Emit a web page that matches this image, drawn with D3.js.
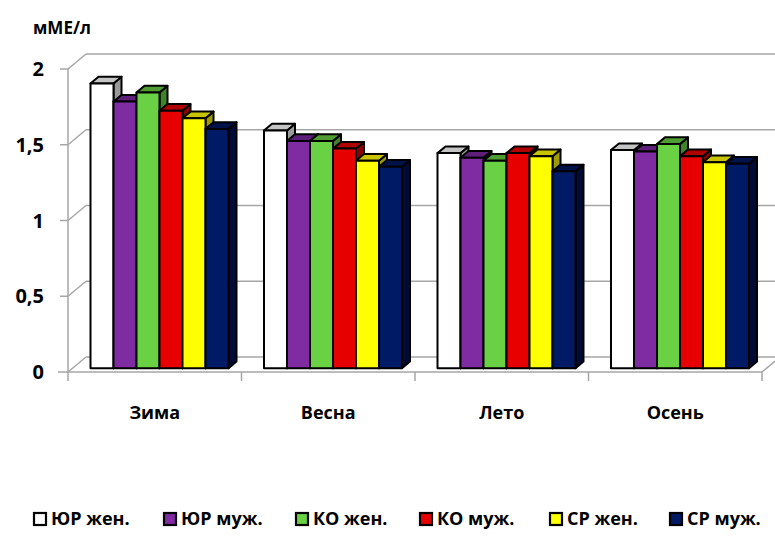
<!DOCTYPE html>
<html>
<head>
<meta charset="utf-8">
<script src="https://cdn.jsdelivr.net/npm/d3@7/dist/d3.min.js"></script>
<style>
  html, body { margin: 0; padding: 0; background: #fff; }
  svg { display: block; }
  text { font-family: "Open Sans", "Noto Sans", sans-serif; font-weight: 700; fill: #000; }
</style>
</head>
<body>
<svg id="chart" width="775" height="550"></svg>
<script>
// Seasons (categories) and the six groups shown in every season
const seasons = ["Зима", "Весна", "Лето", "Осень"];
const groups = ["ЮР жен.", "ЮР муж.", "КО жен.", "КО муж.", "СР жен.", "СР муж."];

// Values per group, one entry per season (мМЕ/л)
const yurZhen = [1.88, 1.57, 1.42, 1.44];
const yurMuzh = [1.76, 1.50, 1.39, 1.43];
const koZhen  = [1.82, 1.50, 1.37, 1.48];
const koMuzh  = [1.70, 1.45, 1.42, 1.40];
const srZhen  = [1.65, 1.37, 1.40, 1.36];
const srMuzh  = [1.58, 1.33, 1.30, 1.35];
const seriesValues = [yurZhen, yurMuzh, koZhen, koMuzh, srZhen, srMuzh];

const yTicks = [0, 0.5, 1, 1.5, 2];
const yTickLabels = ["0", "0,5", "1", "1,5", "2"];
const unitLabel = "мМЕ/л";

// Face colours for each group: front, top, side
const palette = [
  { front: "#ffffff", top: "#c4c4c4", side: "#9a9a9a" },
  { front: "#7f2ca2", top: "#5e1f7a", side: "#4a175f" },
  { front: "#6ad044", top: "#4f9c32", side: "#3f8428" },
  { front: "#e60000", top: "#b00000", side: "#8c0000" },
  { front: "#ffff00", top: "#c8c400", side: "#9e9a00" },
  { front: "#001a66", top: "#00124a", side: "#000c36" }
];

const svg = d3.select("#chart");

// Front plane of the plot and the depth offset of the back wall
const x0 = 68, x1 = 762;
const depthX = 18, depthY = -15;

const x = d3.scaleBand().domain(seasons).range([x0, x1]).paddingInner(0).paddingOuter(0);
const xInner = d3.scaleBand().domain(groups).range([18, 18 + 138]).padding(0);
const y = d3.scaleLinear().domain([0, 2]).range([372, 69]);

// project a point (front-plane x, value, depth fraction 0..1)
const P = (px, v, d) => [px + depthX * d, y(v) + depthY * d];

const grid = svg.append("g").attr("stroke", "#a6a6a6").attr("stroke-width", 1.5).attr("fill", "none");

// Back-wall gridlines with the diagonal connectors running to the value axis
yTicks.forEach(t => {
  const a = P(x0, t, 0), b = P(x0, t, 1), c = P(x1, t, 1);
  grid.append("line").attr("x1", t === 0 ? 58 : 60).attr("y1", a[1]).attr("x2", a[0]).attr("y2", a[1]);
  grid.append("line").attr("x1", a[0]).attr("y1", a[1]).attr("x2", b[0]).attr("y2", b[1]);
  grid.append("line").attr("x1", b[0]).attr("y1", b[1]).attr("x2", c[0] + 20).attr("y2", c[1]);
});

// Value axis and category axis on the front plane
grid.append("line").attr("x1", x0).attr("y1", y(2)).attr("x2", x0).attr("y2", y(0) + 9);
grid.append("line").attr("x1", x0).attr("y1", y(0)).attr("x2", x1).attr("y2", y(0));
{
  const a = P(x1, 0, 0), b = P(x1, 0, 1);
  grid.append("line").attr("x1", a[0]).attr("y1", a[1]).attr("x2", b[0]).attr("y2", b[1]);
}
seasons.forEach(s => {
  const px = x(s) + x.bandwidth();
  grid.append("line").attr("x1", px).attr("y1", y(0)).attr("x2", px).attr("y2", y(0) + 9);
});

// Y tick labels
svg.append("g").selectAll("text").data(yTicks).join("text")
  .attr("x", 44).attr("y", d => y(d))
  .attr("dy", "0.36em")
  .attr("text-anchor", "end")
  .attr("font-size", 20)
  .text((d, i) => yTickLabels[i]);

// Unit label
svg.append("text").attr("x", 33).attr("y", 34).attr("font-size", 17).text(unitLabel);

// Category labels
svg.append("g").selectAll("text").data(seasons).join("text")
  .attr("x", d => x(d) + x.bandwidth() / 2)
  .attr("y", 419)
  .attr("text-anchor", "middle")
  .attr("font-size", 18)
  .text(d => d);

// 3D bars: front face, top face, right side face
const dFront = 0.25, dBack = 0.25 + 8 / 18;
const bars = svg.append("g").attr("stroke", "#000").attr("stroke-width", 2).attr("stroke-linejoin", "round");
const poly = pts => pts.map(p => p.join(",")).join(" ");

seasons.forEach((s, si) => {
  groups.forEach((g, gi) => {
    const v = seriesValues[gi][si];
    const l = x(s) + xInner(g);
    const r = l + xInner.bandwidth();
    const c = palette[gi];
    const fBL = P(l, 0, dFront), fBR = P(r, 0, dFront), fTR = P(r, v, dFront), fTL = P(l, v, dFront);
    const bTL = P(l, v, dBack), bTR = P(r, v, dBack), bBR = P(r, 0, dBack);
    bars.append("polygon").attr("points", poly([fBR, bBR, bTR, fTR])).attr("fill", c.side);
    bars.append("polygon").attr("points", poly([fTL, fTR, bTR, bTL])).attr("fill", c.top);
    bars.append("polygon").attr("points", poly([fBL, fBR, fTR, fTL])).attr("fill", c.front);
  });
});

// Legend
const legendX = [34, 164, 296, 420, 550, 670];
const legend = svg.append("g");
groups.forEach((g, i) => {
  legend.append("rect")
    .attr("x", legendX[i]).attr("y", 513).attr("width", 12).attr("height", 12)
    .attr("fill", palette[i].front).attr("stroke", "#000").attr("stroke-width", 2.2);
  legend.append("text")
    .attr("x", legendX[i] + 17).attr("y", 519).attr("dy", "0.36em")
    .attr("font-size", 18)
    .text(g);
});
</script>
</body>
</html>
